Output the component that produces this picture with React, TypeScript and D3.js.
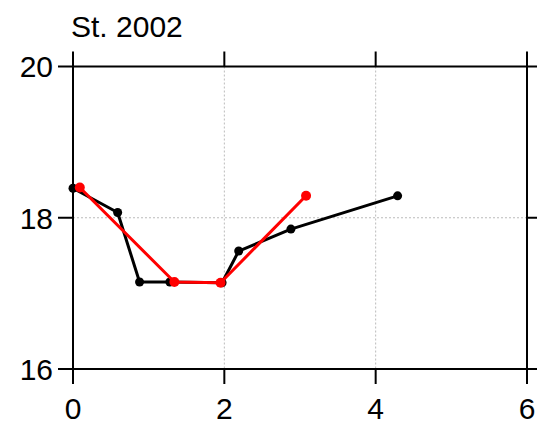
import React from "react";
import * as d3 from "d3";

const title = "St. 2002";
const xTicks = [0, 2, 4, 6];
const yTicks = [16, 18, 20];
const xGrid = [2, 4];
const yGrid = [18];

const blackX = [0.0, 0.59, 0.88, 1.28, 1.97, 2.19, 2.88, 4.29];
const blackY = [18.39, 18.07, 17.15, 17.15, 17.14, 17.56, 17.85, 18.29];
const redX = [0.09, 1.34, 1.95, 3.08];
const redY = [18.4, 17.15, 17.14, 18.29];

const W = 537;
const H = 424;
const L = 73, R = 527, T = 66.5, B = 369;
const FONT = "'Liberation Sans', Arial, Helvetica, sans-serif";
const FS = 30;

export default function App() {
  const x = d3.scaleLinear().domain([0, 6]).range([L, R]);
  const y = d3.scaleLinear().domain([16, 20]).range([B, T]);
  const line = d3.line<[number, number]>().x(d => x(d[0])).y(d => y(d[1]));
  const black: [number, number][] = blackX.map((v, i) => [v, blackY[i]]);
  const red: [number, number][] = redX.map((v, i) => [v, redY[i]]);
  const tl = 15;
  return (
    <svg width={W} height={H} style={{ position: "absolute", left: 0, top: 0 }}>
      <rect width={W} height={H} fill="#fff" />
      {xGrid.map(v => (
        <line key={"gx" + v} x1={x(v)} x2={x(v)} y1={T} y2={B} stroke="#bbb" strokeWidth={1} strokeDasharray="2,2" />
      ))}
      {yGrid.map(v => (
        <line key={"gy" + v} x1={L} x2={R} y1={y(v)} y2={y(v)} stroke="#bbb" strokeWidth={1} strokeDasharray="2,2" />
      ))}
      <rect x={L} y={T} width={R - L} height={B - T} fill="none" stroke="#000" strokeWidth={2} />
      {xTicks.map(v => (
        <g key={"xt" + v}>
          <line x1={x(v)} x2={x(v)} y1={B} y2={B + tl} stroke="#000" strokeWidth={2} />
          <line x1={x(v)} x2={x(v)} y1={T} y2={T - tl} stroke="#000" strokeWidth={2} />
          <text x={x(v)} y={419} textAnchor="middle" fontFamily={FONT} fontSize={FS} fill="#000">{v}</text>
        </g>
      ))}
      {yTicks.map(v => (
        <g key={"yt" + v}>
          <line x1={L} x2={L - tl} y1={y(v)} y2={y(v)} stroke="#000" strokeWidth={2} />
          <line x1={R} x2={R + tl} y1={y(v)} y2={y(v)} stroke="#000" strokeWidth={2} />
          <text x={53} y={y(v)} dy="0.36em" textAnchor="end" fontFamily={FONT} fontSize={FS} fill="#000">{v}</text>
        </g>
      ))}
      <text x={71} y={37} fontFamily={FONT} fontSize={FS} fill="#000">{title}</text>
      <path d={line(black) || ""} fill="none" stroke="#000" strokeWidth={3} strokeLinejoin="round" />
      {black.map((d, i) => (
        <circle key={"b" + i} cx={x(d[0])} cy={y(d[1])} r={4.5} fill="#000" />
      ))}
      <path d={line(red) || ""} fill="none" stroke="#ff0000" strokeWidth={3} strokeLinejoin="round" />
      {red.map((d, i) => (
        <circle key={"r" + i} cx={x(d[0])} cy={y(d[1])} r={5} fill="#ff0000" />
      ))}
    </svg>
  );
}
